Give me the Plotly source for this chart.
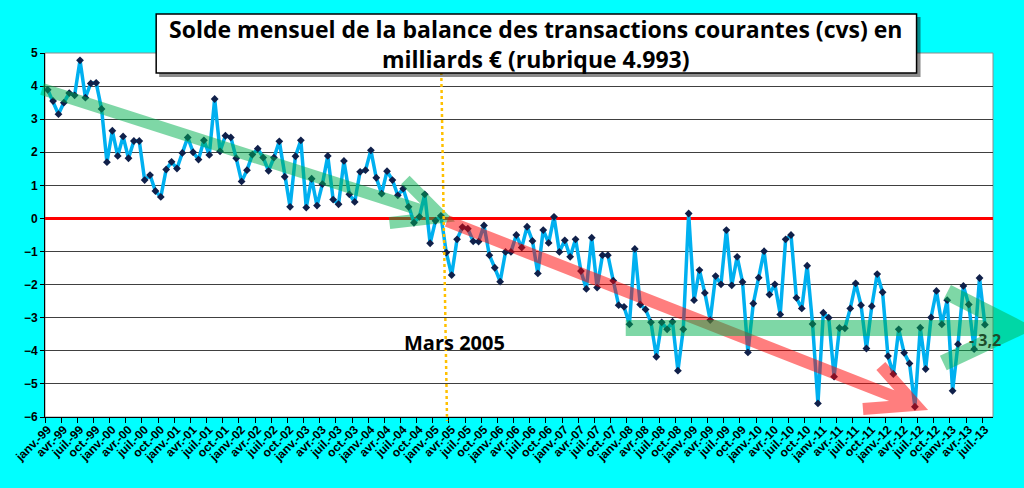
import plotly.graph_objects as go

# Solde mensuel, janv. 1999 -> juil. 2013 (milliards EUR, cvs)
mois = ["janv.", "févr.", "mars", "avr.", "mai", "juin",
        "juil.", "août", "sept.", "oct.", "nov.", "déc."]
annees = list(range(1999, 2014))

solde = [
    3.89, 3.55, 3.15, 3.50, 3.79, 3.72, 4.78, 3.65, 4.08, 4.10, 3.31, 1.70,
    2.65, 1.89, 2.48, 1.82, 2.34, 2.34, 1.16, 1.31, 0.83, 0.65, 1.48, 1.71,
    1.51, 1.98, 2.45, 2.00, 1.78, 2.36, 1.92, 3.61, 2.03, 2.50, 2.45, 1.82,
    1.12, 1.46, 1.93, 2.11, 1.84, 1.44, 1.84, 2.33, 1.26, 0.35, 1.88, 2.36,
    0.33, 1.20, 0.39, 1.04, 1.89, 0.57, 0.43, 1.74, 0.73, 0.50, 1.41, 1.46,
    2.06, 1.23, 0.75, 1.43, 1.16, 0.70, 0.90, 0.35, -0.13, 0.05, 0.73, -0.75,
    -0.07, 0.08, -1.03, -1.71, -0.63, -0.26, -0.31, -0.69, -0.70, -0.21, -1.11, -1.49,
    -1.91, -1.01, -1.01, -0.50, -0.88, -0.25, -0.68, -1.66, -0.35, -0.74, 0.05, -1.01,
    -0.66, -1.16, -0.63, -1.59, -2.13, -0.58, -2.09, -1.11, -1.11, -1.88, -2.62, -2.67,
    -3.20, -0.92, -2.60, -2.75, -3.14, -4.18, -3.14, -3.35, -3.12, -4.60, -3.35, 0.15,
    -2.47, -1.56, -2.25, -3.07, -1.74, -1.99, -0.35, -2.02, -1.16, -1.92, -4.05, -2.57,
    -1.79, -0.99, -2.30, -1.99, -2.90, -0.63, -0.50, -2.40, -2.72, -1.43, -3.19, -5.59,
    -2.85, -3.00, -4.78, -3.31, -3.32, -2.72, -1.96, -2.62, -3.93, -2.65, -1.68, -2.23,
    -4.16, -4.70, -3.35, -4.06, -4.38, -5.69, -3.30, -4.55, -2.99, -2.19, -3.20, -2.47,
    -5.21, -3.80, -2.04, -2.60, -3.95, -1.80, -3.21,
]

labels = [f"{m}-{str(a)[2:]}" for a in annees for m in mois][:len(solde)]
x = list(range(len(solde)))

# pixel -> paper (zone de tracé 38..993 x 53..417)
L, R, T, B = 38, 993, 53, 417
def px(xp, yp):
    return (xp - L) / (R - L), (B - yp) / (B - T)

def path(points):
    pts = [px(a, b) for a, b in points]
    return "M" + " L".join(f"{a:.4f},{b:.4f}" for a, b in pts)

def arrow(shaft, head_a, head_b, color, width):
    tip = shaft[-1]
    d = path(shaft) + " M" + path([head_a, tip, head_b])[1:]
    return dict(type="path", xref="paper", yref="paper", path=d,
                line=dict(color=color, width=width), opacity=0.5, layer="above")

fig = go.Figure()
fig.add_trace(go.Scatter(
    x=x, y=solde, mode="lines+markers",
    line=dict(color="#00B0F0", width=3.5),
    marker=dict(symbol="diamond", size=6, color="#10204A"),
    hoverinfo="skip",
))

shapes = [
    # cadre gris de la zone de tracé
    dict(type="rect", xref="paper", yref="paper", x0=0, y0=0, x1=1, y1=1,
         line=dict(color="#8C8C8C", width=1), layer="below"),
    arrow([(35, 89), (438, 217)], (401, 180), (385, 223), "#00B050", 12),
    arrow([(443, 221), (915, 405)], (880, 366), (862, 409), "#FF0000", 12),
    arrow([(623, 328), (1018, 328)], (947, 292), (943, 363), "#00B050", 16),
    dict(type="path", xref="paper", yref="paper", path=path([(437, 60), (443, 421)]),
         line=dict(color="#FFC000", width=2.5, dash="dot"), layer="above"),
]
# boîte du titre avec ombre
sx0, sy0 = px(153, 77)
sx1, sy1 = px(920, 17)
shapes.append(dict(type="rect", xref="paper", yref="paper", x0=sx0, y0=sy0, x1=sx1, y1=sy1,
                   fillcolor="rgba(0,0,0,0.45)", line=dict(width=0), layer="above"))
bx0, by0 = px(150, 73)
bx1, by1 = px(916, 14)
shapes.append(dict(type="rect", xref="paper", yref="paper", x0=bx0, y0=by0, x1=bx1, y1=by1,
                   fillcolor="white", line=dict(color="black", width=1.5), layer="above"))

tx, ty = px(532, 44)
mx, my = px(451, 342)
vx, vy = px(985, 340)
annotations = [
    dict(xref="paper", yref="paper", x=tx, y=ty, xanchor="center", yanchor="middle",
         showarrow=False,
         text="Solde mensuel de la balance des transactions courantes (cvs) en<br>milliards € (rubrique 4.993)",
         font=dict(family="Open Sans", size=23, color="black", weight="bold")),
    dict(xref="paper", yref="paper", x=mx, y=my, xanchor="center", yanchor="middle",
         showarrow=False, text="Mars 2005",
         font=dict(family="Open Sans", size=20, color="black", weight="bold")),
    dict(xref="paper", yref="paper", x=vx, y=vy, xanchor="center", yanchor="middle",
         showarrow=False, text="- 3,2",
         font=dict(family="Open Sans", size=16, color="#1D4D2A", weight="bold")),
]

fig.update_layout(
    width=1024, height=488,
    margin=dict(l=L, r=1024 - R, t=T, b=488 - B),
    paper_bgcolor="#00FFFF", plot_bgcolor="white",
    showlegend=False,
    shapes=shapes, annotations=annotations,
    xaxis=dict(
        range=[-0.5, 175.5], showgrid=False, zeroline=False,
        tickmode="array", tickvals=x[::3], ticktext=labels[::3],
        tickangle=-45, ticks="",
        tickfont=dict(family="Liberation Sans", size=12, color="black", weight="bold"),
        showline=True, linecolor="black", linewidth=1,
        minor=dict(tick0=-0.5, dtick=3, ticks="outside", ticklen=5,
                   tickcolor="black", showgrid=False),
    ),
    yaxis=dict(
        range=[-6, 5], dtick=1, showgrid=True, gridcolor="#404040", gridwidth=1,
        zeroline=True, zerolinecolor="#FF0000", zerolinewidth=3,
        showline=True, linecolor="black", linewidth=1,
        ticks="outside", ticklen=4, tickcolor="black",
        tickfont=dict(family="Liberation Sans", size=12, color="black", weight="bold"),
    ),
)

fig.write_html("out.html", config={"displayModeBar": False},
               post_script="document.body.style.margin='0';document.body.style.overflow='hidden';")
